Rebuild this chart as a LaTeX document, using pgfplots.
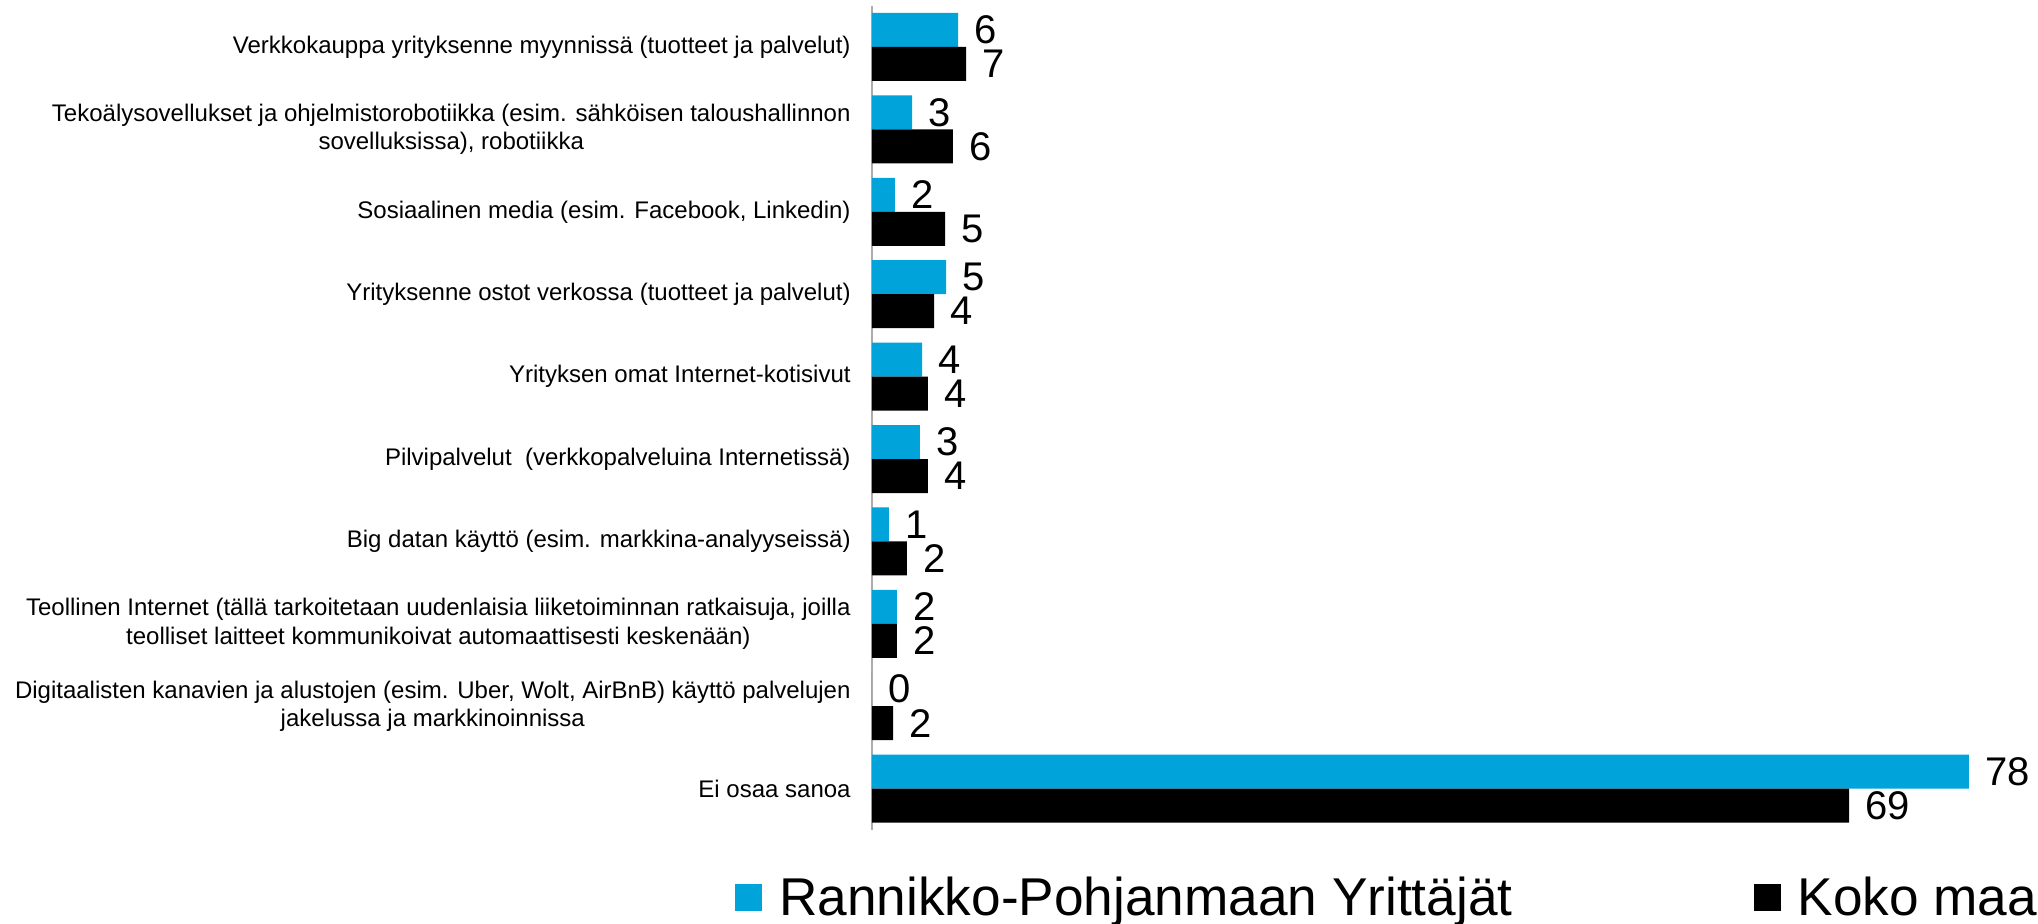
\documentclass[border=0pt]{standalone}
\usepackage{pgfplots}
\pgfplotsset{compat=1.18}
\usepackage{fontspec}
\setmainfont{Liberation Sans}
\definecolor{rpy}{RGB}{0,163,218}

\begin{document}
\begin{tikzpicture}
\begin{axis}[
  scale only axis, width=564pt, height=412pt,
  xmin=0, xmax=80, ymin=-0.5, ymax=9.5,
  xbar, bar width=17pt,
  axis x line=none, axis y line*=left,
  y axis line style={draw=gray!65, line width=1pt, -},
  ytick={0,...,9}, major tick length=0pt,
  yticklabels={
    Ei osaa sanoa,
    {Digitaalisten kanavien ja alustojen (esim. Uber, Wolt, AirBnB) käyttö palvelujen\\jakelussa ja markkinoinnissa},
    {Teollinen Internet (tällä tarkoitetaan uudenlaisia liiketoiminnan ratkaisuja, joilla\\teolliset laitteet kommunikoivat automaattisesti keskenään)},
    Big datan käyttö (esim. markkina-analyyseissä),
    Pilvipalvelut~ (verkkopalveluina Internetissä),
    Yrityksen omat Internet-kotisivut,
    Yrityksenne ostot verkossa (tuotteet ja palvelut),
    {Sosiaalinen media (esim. Facebook, Linkedin)},
    {Tekoälysovellukset ja ohjelmistorobotiikka (esim. sähköisen taloushallinnon\\sovelluksissa), robotiikka},
    Verkkokauppa yrityksenne myynnissä (tuotteet ja palvelut)},
  yticklabel style={font=\fontsize{12}{14.3}\selectfont, align=center, inner sep=0pt, xshift=-10.5pt},
  point meta=explicit symbolic,
  nodes near coords,
  nodes near coords style={font=\fontsize{20}{24}\selectfont, anchor=west, inner sep=0pt, xshift=8pt},
  legend columns=2,
  legend style={draw=none, fill=none, font=\fontsize{26.6}{32}\selectfont,
    at={(-0.1215,-0.0825)}, anchor=west, inner sep=0pt,
    /tikz/every odd column/.append style={column sep=6.5pt},
    /tikz/every even column/.append style={column sep=118.5pt}},
  legend image code/.code={\fill (0pt,-6.75pt) rectangle (13.5pt,6.75pt);},
  clip=false,
]
% Rannikko-Pohjanmaa (ylempi palkki)
\addplot[fill=rpy, draw=none, bar shift=8.5pt] coordinates {
  (77.8,0) [78] (0,1) [0] (1.77,2) [2] (1.2,3) [1] (3.4,4) [3]
  (3.55,5) [4] (5.25,6) [5] (1.63,7) [2] (2.84,8) [3] (6.1,9) [6]};
% Koko maa
\addplot[fill=black, draw=none, bar shift=-8.5pt] coordinates {
  (69.3,0) [69] (1.5,1) [2] (1.77,2) [2] (2.48,3) [2] (3.97,4) [4]
  (3.97,5) [4] (4.4,6) [4] (5.18,7) [5] (5.74,8) [6] (6.67,9) [7]};
\legend{Rannikko-Pohjanmaan Yrittäjät, Koko maa}
\end{axis}
\pgfresetboundingbox
\path[use as bounding box] (-436pt,-46.6pt) rectangle (583pt,414.9pt);
\end{tikzpicture}
\end{document}
